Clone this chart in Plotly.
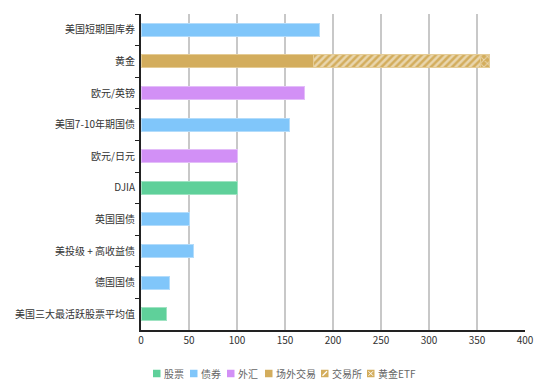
import plotly.graph_objects as go

categories = ["美国短期国库券", "黄金", "欧元/英镑", "美国7-10年期国债", "欧元/日元",
              "DJIA", "英国国债", "美投级 + 高收益债", "德国国债", "美国三大最活跃股票平均值"]

stocks = [None, None, None, None, None, 100, None, None, None, 27]
bonds = [186, None, None, 155, None, None, 50, 55, 29.5, None]
fx = [None, None, 170, None, 100, None, None, None, None, None]
gold_otc = [None, 180, None, None, None, None, None, None, None, None]
gold_exchange = [None, 174, None, None, None, None, None, None, None, None]
gold_etf = [None, 9, None, None, None, None, None, None, None, None]

series_names = ["股票", "债券", "外汇", "场外交易", "交易所", "黄金ETF"]

x_ticks = [0, 50, 100, 150, 200, 250, 300, 350, 400]

GREEN = "#5fd09a"
BLUE = "#80c6fa"
PURPLE = "#d290f6"
GOLD = "#d3ad5d"

# page has an 8px body margin, so figure is drawn 8px smaller
W, H = 542, 380
ML, MR, MT, MB = 133, 25, 6, 58
PW, PH = W - ML - MR, H - MT - MB

fig = go.Figure()

def add(name, vals, color, line_color, pattern=None):
    marker = dict(color=color, line=dict(color=line_color, width=1))
    if pattern:
        marker["pattern"] = pattern
    fig.add_trace(go.Bar(y=categories, x=vals, name=name, orientation="h",
                         marker=marker, hoverinfo="x+name", showlegend=False))

add(series_names[0], stocks, GREEN, "#9fe3c2")
add(series_names[1], bonds, BLUE, "#b3dcfb")
add(series_names[2], fx, PURPLE, "#e3bdf9")
add(series_names[3], gold_otc, GOLD, "#e5cc95")
add(series_names[4], gold_exchange, GOLD, "#e5cc95",
    dict(shape="/", fgcolor="white", bgcolor=GOLD, size=5, solidity=0.5))
add(series_names[5], gold_etf, GOLD, "#e5cc95",
    dict(shape="x", fgcolor="white", bgcolor=GOLD, size=5, solidity=0.35))

# custom legend (pixel positions in figure coordinates)
def px(x):
    return (x - ML) / PW

def py(y):
    return (H - MB - y) / PH

legend_x = [145, 182, 219, 257, 313, 359]
legend_colors = [GREEN, BLUE, PURPLE, GOLD, GOLD, GOLD]
LY = 365.5
S = 7.5
shapes = []
annotations = []
for i, (name, lx, col) in enumerate(zip(series_names, legend_x, legend_colors)):
    shapes.append(dict(type="rect", xref="paper", yref="paper",
                       x0=px(lx), x1=px(lx + S), y0=py(LY + S / 2), y1=py(LY - S / 2),
                       fillcolor=col, line=dict(width=0), layer="above"))
    if i == 4:
        shapes.append(dict(type="line", xref="paper", yref="paper",
                           x0=px(lx + 1.5), x1=px(lx + S - 1.5),
                           y0=py(LY + S / 2 - 1.5), y1=py(LY - S / 2 + 1.5),
                           line=dict(color="white", width=1.2), layer="above"))
    if i == 5:
        for a, b in [(1.5, S - 1.5), (S - 1.5, 1.5)]:
            shapes.append(dict(type="line", xref="paper", yref="paper",
                               x0=px(lx + 1.5), x1=px(lx + S - 1.5),
                               y0=py(LY - S / 2 + a), y1=py(LY - S / 2 + b),
                               line=dict(color="white", width=1), layer="above"))
    annotations.append(dict(xref="paper", yref="paper", x=px(lx + S + 1), y=py(LY),
                            xanchor="left", yanchor="middle", showarrow=False,
                            text=name, font=dict(size=10, color="#666")))

fig.update_layout(
    width=W, height=H,
    barmode="stack", bargap=0.59,
    plot_bgcolor="white", paper_bgcolor="white",
    margin=dict(l=ML, r=MR, t=MT, b=MB, autoexpand=False),
    font=dict(family="Noto Sans CJK SC, Noto Sans, sans-serif", size=10, color="#333"),
    showlegend=False,
    shapes=shapes,
    annotations=annotations,
    xaxis=dict(range=[0, 400], tickvals=x_ticks, ticktext=[str(v) for v in x_ticks],
               showgrid=True, gridcolor="#c8c8c8", gridwidth=1.5,
               showline=True, linecolor="#222", linewidth=1.5, automargin=False,
               ticks="", zeroline=False, tickfont=dict(size=10, color="#333")),
    yaxis=dict(categoryorder="array", categoryarray=categories, autorange="reversed",
               showline=True, linecolor="#222", linewidth=1.5, automargin=False,
               ticks="outside", ticklen=4, tickcolor="#222", tickson="boundaries",
               ticksuffix=" ", tickfont=dict(size=10, color="#333")),
)

fig.write_html("out.html")
